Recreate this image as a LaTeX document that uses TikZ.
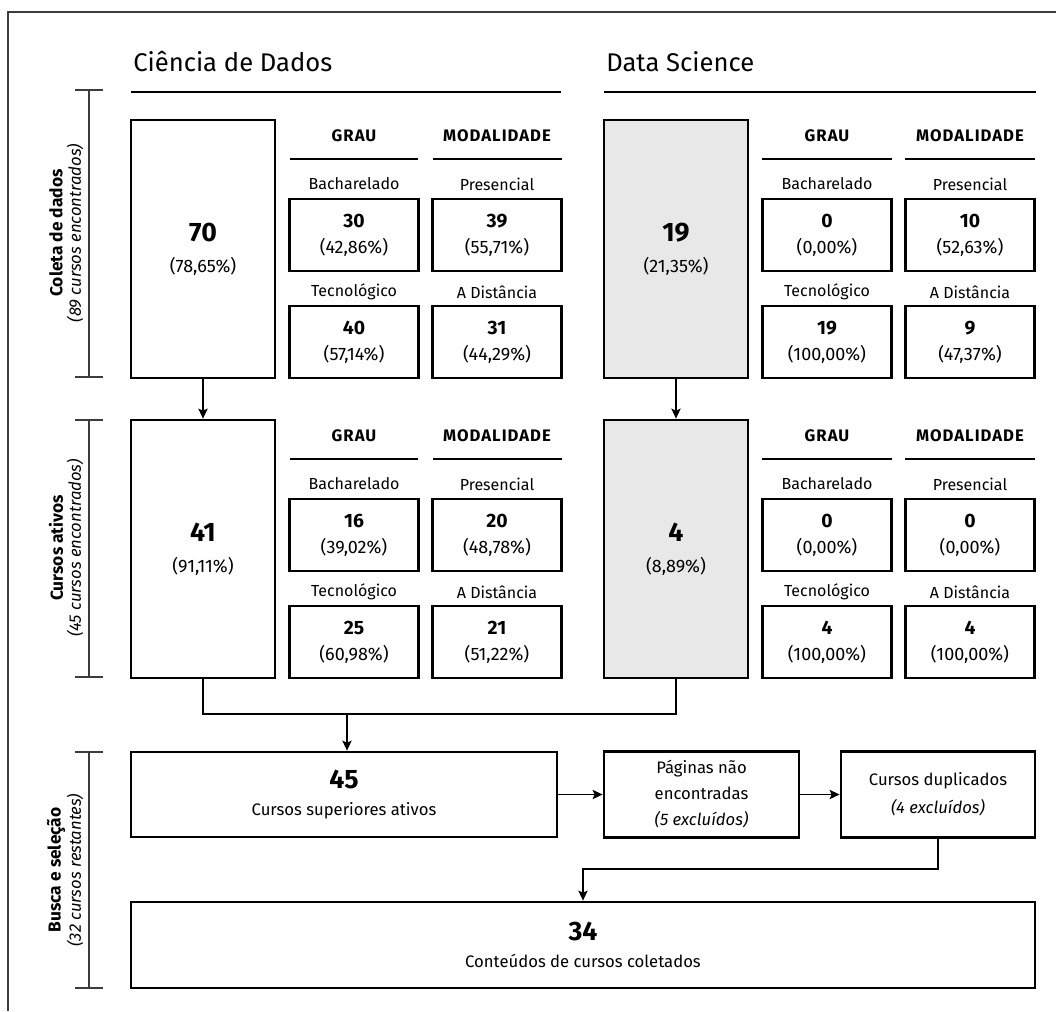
\documentclass[tikz,border=0pt]{standalone}
\usepackage{fontspec}
\setmainfont{Fira Sans}[Numbers=Lining]
\newfontfamily\capfont{Fira Sans}[Numbers=Lining, LetterSpace=6]
\usetikzlibrary{arrows.meta}

\definecolor{dsgray}{HTML}{E8E8E8}
\definecolor{rulegray}{HTML}{3C3C3C}

% font shortcuts
\newcommand\headf{\fontsize{19.2}{23}\selectfont}
\newcommand\colf{\capfont\fontsize{12.5}{14}\selectfont\bfseries}
\newcommand\txtf{\fontsize{12}{19.5}\selectfont}
\newcommand\pctf{\fontsize{13.5}{19.5}\selectfont}
\newcommand\boxtxtf{\fontsize{12.5}{19.5}\selectfont}
\newcommand\numf{\fontsize{14.5}{16}\selectfont\bfseries}
\newcommand\bignumf{\fontsize{20}{22}\selectfont\bfseries}
\newcommand\sidef{\fontsize{13}{15}\selectfont\bfseries}
\newcommand\sideif{\fontsize{12.5}{15}\selectfont\itshape}

\tikzset{
  wpx/.style={minimum width=#1*0.75pt},
  hpx/.style={minimum height=#1*0.75pt},
  box/.style={draw=black, line width=2.1pt, inner sep=0pt, align=center, font=\pctf},
  statbox/.style={box, wpx=129, hpx=72},
  bigbox/.style={box, wpx=144, hpx=258},
  flowbox/.style={box, font=\boxtxtf},
  lbl/.style={font=\txtf, inner sep=0pt},
  colhead/.style={font=\colf, inner sep=0pt},
  heavyrule/.style={line width=2.2pt},
  conn/.style={line width=0.9pt, -{Stealth[length=7.5pt, width=7pt, inset=1.5pt]}},
  plainconn/.style={line width=0.9pt},
  bracket/.style={draw=rulegray, line width=1pt},
  sidebold/.style={rotate=90, font=\sidef, inner sep=0pt},
  sideital/.style={rotate=90, font=\sideif, inner sep=0pt},
}

\begin{document}
\begin{tikzpicture}[x=0.75pt, y=-0.75pt]
\useasboundingbox (0,0) rectangle (1056,1011);

% frame on the top and left edges
\draw[rulegray, line width=1pt] (8,1011) -- (8,12) -- (1056,12);

% ---------- column headers ----------
\node[anchor=base west, font=\headf, inner sep=0pt] (hcd) at (133,71) {Ciência de Dados};
\node[anchor=base west, font=\headf, inner sep=0pt] (hds) at (606,71) {Data Science};
\draw[heavyrule] (131,92) -- (561,92);
\draw[heavyrule] (604,92) -- (1036,92);

% ---------- side brackets ----------
\draw[bracket] (75,90) -- (103,90) (89,90) -- (89,377) (75,377) -- (103,377);
\node[sidebold] (s1) at (56,233) {Coleta de dados};
\node[sideital] (s1i) at (75,233) {(89 cursos encontrados)};

\draw[bracket] (75,420) -- (103,420) (89,420) -- (89,677) (75,677) -- (103,677);
\node[sidebold] (s2) at (56,548) {Cursos ativos};
\node[sideital] (s2i) at (75,548) {(45 cursos encontrados)};

\draw[bracket] (75,752) -- (103,752) (89,752) -- (89,988) (75,988) -- (103,988);
\node[sidebold] (s3) at (56,870) {Busca e seleção};
\node[sideital] (s3i) at (75,870) {(32 cursos restantes)};

% ---------- row 1 : data collection ----------
\node[bigbox] (cd1) at (203,249) {{\bignumf 70}\\[3.5pt](78,65\%)};
\node[bigbox, fill=dsgray] (ds1) at (676,249) {{\bignumf 19}\\[3.5pt](21,35\%)};

% Ciência de Dados breakdown
\node[colhead] (cd1g) at (354,136) {GRAU};
\node[colhead] (cd1m) at (497,136) {MODALIDADE};
\draw[heavyrule] (290,159) -- (418,159);
\draw[heavyrule] (433,159) -- (562,159);
\node[lbl] (cd1lb) at (354,184) {Bacharelado};
\node[lbl] (cd1lp) at (497,184) {Presencial};
\node[lbl] (cd1lt) at (354,292) {Tecnológico};
\node[lbl] (cd1ld) at (497,292) {A Distância};
\node[statbox] (cd1b) at (354,235) {{\numf 30}\\(42,86\%)};
\node[statbox] (cd1p) at (497,235) {{\numf 39}\\(55,71\%)};
\node[statbox] (cd1t) at (354,342) {{\numf 40}\\(57,14\%)};
\node[statbox] (cd1d) at (497,342) {{\numf 31}\\(44,29\%)};

% Data Science breakdown
\node[colhead] (ds1g) at (827,136) {GRAU};
\node[colhead] (ds1m) at (970,136) {MODALIDADE};
\draw[heavyrule] (762,159) -- (892,159);
\draw[heavyrule] (905,159) -- (1035,159);
\node[lbl] (ds1lb) at (827,184) {Bacharelado};
\node[lbl] (ds1lp) at (970,184) {Presencial};
\node[lbl] (ds1lt) at (827,292) {Tecnológico};
\node[lbl] (ds1ld) at (970,292) {A Distância};
\node[statbox] (ds1b) at (827,235) {{\numf 0}\\(0,00\%)};
\node[statbox] (ds1p) at (970,235) {{\numf 10}\\(52,63\%)};
\node[statbox] (ds1t) at (827,342) {{\numf 19}\\(100,00\%)};
\node[statbox] (ds1d) at (970,342) {{\numf 9}\\(47,37\%)};

% ---------- row 2 : active courses ----------
\node[bigbox] (cd2) at (203,549) {{\bignumf 41}\\[3.5pt](91,11\%)};
\node[bigbox, fill=dsgray] (ds2) at (676,549) {{\bignumf 4}\\[3.5pt](8,89\%)};

\node[colhead] (cd2g) at (354,436) {GRAU};
\node[colhead] (cd2m) at (497,436) {MODALIDADE};
\draw[heavyrule] (290,459) -- (418,459);
\draw[heavyrule] (433,459) -- (562,459);
\node[lbl] (cd2lb) at (354,484) {Bacharelado};
\node[lbl] (cd2lp) at (497,484) {Presencial};
\node[lbl] (cd2lt) at (354,592) {Tecnológico};
\node[lbl] (cd2ld) at (497,592) {A Distância};
\node[statbox] (cd2b) at (354,535) {{\numf 16}\\(39,02\%)};
\node[statbox] (cd2p) at (497,535) {{\numf 20}\\(48,78\%)};
\node[statbox] (cd2t) at (354,642) {{\numf 25}\\(60,98\%)};
\node[statbox] (cd2d) at (497,642) {{\numf 21}\\(51,22\%)};

\node[colhead] (ds2g) at (827,436) {GRAU};
\node[colhead] (ds2m) at (970,436) {MODALIDADE};
\draw[heavyrule] (762,459) -- (892,459);
\draw[heavyrule] (905,459) -- (1035,459);
\node[lbl] (ds2lb) at (827,484) {Bacharelado};
\node[lbl] (ds2lp) at (970,484) {Presencial};
\node[lbl] (ds2lt) at (827,592) {Tecnológico};
\node[lbl] (ds2ld) at (970,592) {A Distância};
\node[statbox] (ds2b) at (827,535) {{\numf 0}\\(0,00\%)};
\node[statbox] (ds2p) at (970,535) {{\numf 0}\\(0,00\%)};
\node[statbox] (ds2t) at (827,642) {{\numf 4}\\(100,00\%)};
\node[statbox] (ds2d) at (970,642) {{\numf 4}\\(100,00\%)};

% ---------- row 3 : search and selection ----------
\node[flowbox, wpx=426, hpx=85] (b45) at (344,794.5) {{\bignumf 45}\\[1pt]Cursos superiores ativos};
\node[flowbox, wpx=195, hpx=86] (pag) at (701.5,794.5) {Páginas não\\encontradas\\\textit{(5 excluídos)}};
\node[flowbox, wpx=194, hpx=86] (dup) at (938,794.5) {Cursos duplicados\\[1.5pt]\textit{(4 excluídos)}};
\node[flowbox, wpx=904, hpx=86] (b34) at (583,945) {{\bignumf 34}\\[1pt]Conteúdos de cursos coletados};

% ---------- connectors ----------
\draw[conn] (cd1.south) -- (cd2.north);
\draw[conn] (ds1.south) -- (ds2.north);

\coordinate (mj) at (347,714);
\draw[plainconn] (cd2.south) |- (mj) -| (ds2.south);
\draw[conn] (mj) -- (mj |- b45.north);

\draw[conn] (b45.east) -- (pag.west);
\draw[conn] (pag.east) -- (dup.west);

\coordinate (dj) at (583,869);
\draw[conn] (dup.south) |- (dj) -- (b34.north);
\end{tikzpicture}
\end{document}
